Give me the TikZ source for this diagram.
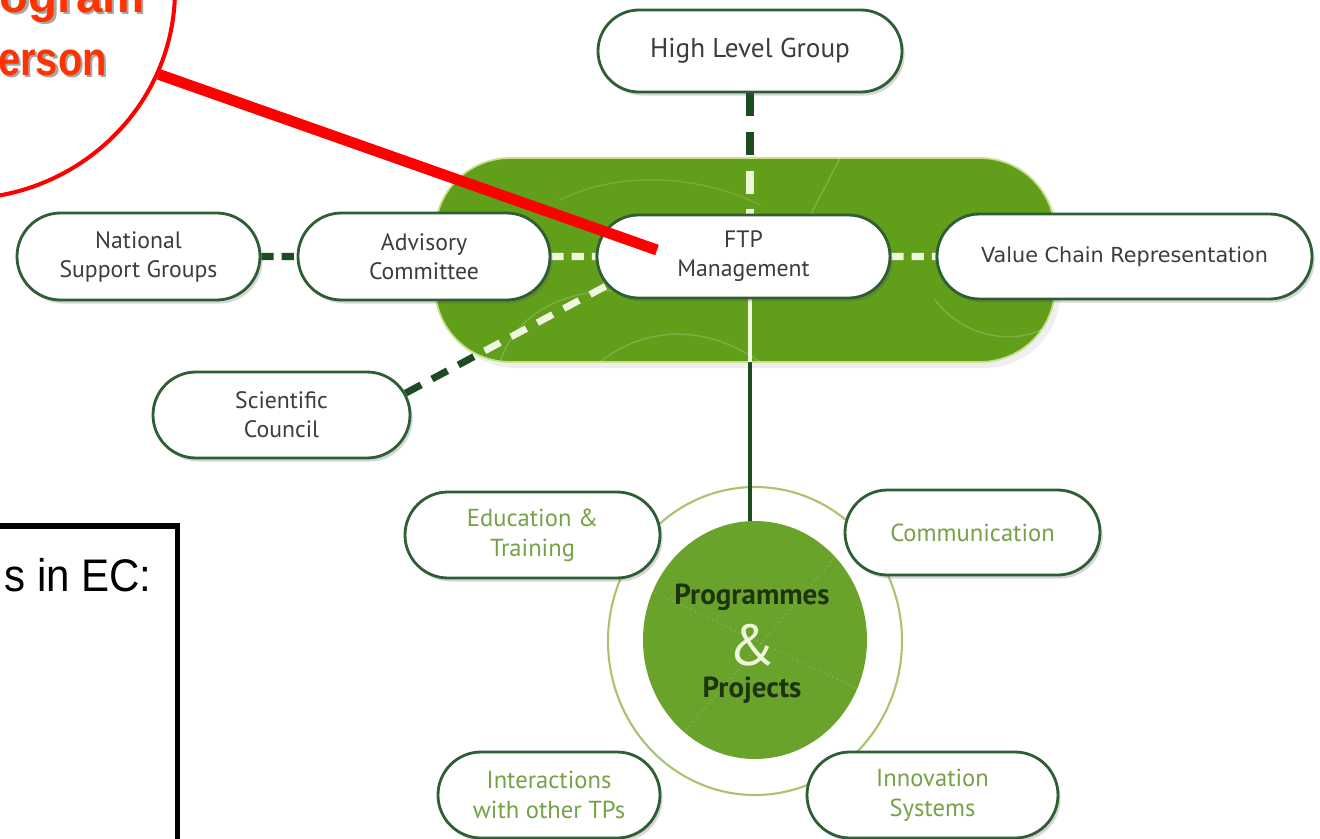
\documentclass[tikz,border=0pt]{standalone}
\usepackage{fontspec}
\setmainfont{PT Sans}
\newfontfamily\arialfont{Liberation Sans}
\newfontfamily\dvfont{DejaVu Sans}
\usetikzlibrary{shapes.misc,shapes.geometric,shadows}
\definecolor{panelgreen}{HTML}{619F1B}
\definecolor{panelrim}{HTML}{C9DF8E}
\definecolor{circgreen}{HTML}{6AA32C}
\definecolor{ringc}{HTML}{A9C46C}
\definecolor{pilledge}{HTML}{2E5E33}
\definecolor{pilltext}{HTML}{3C3C3C}
\definecolor{botgreen}{HTML}{76A245}
\definecolor{dgline}{HTML}{1C4C20}
\definecolor{paleline}{HTML}{EEF6DC}
\definecolor{ppdark}{HTML}{1E3410}
\definecolor{orangetxt}{HTML}{FF3300}
\pgfdeclarelayer{paper}
\pgfdeclarelayer{panel}
\pgfdeclarelayer{lines}
\pgfsetlayers{paper,panel,lines,main}
\begin{document}
\begin{tikzpicture}[x=0.02cm,y=-0.02cm,
  pill/.style 2 args={shape=rounded rectangle, draw=pilledge, line width=1.6pt,
    fill=white, minimum width=#1*0.02cm, minimum height=#2*0.02cm, inner sep=0pt,
    align=center, text=pilltext, font=\fontsize{13.5}{16.5}\selectfont,
    drop shadow={shadow xshift=1.5pt, shadow yshift=-2pt, opacity=0.22, fill=black!70}},
  botpill/.style={text=botgreen, font=\fontsize{14}{17}\selectfont},
  darkdash/.style={draw=dgline, line width=4pt},
  palestroke/.style={draw=paleline, line width=4pt},
  hdash/.style={dash pattern=on 7pt off 4.5pt},
  vdash/.style={dash pattern=on 13pt off 9pt},
  ddash/.style={dash pattern=on 10pt off 7pt},
  orangetext/.style={font=\arialfont\bfseries\fontsize{27}{32}\selectfont, inner sep=0pt, anchor=base east}
]
\useasboundingbox (0,0) rectangle (1320,839);
\begin{pgfonlayer}{paper}
  \fill[white] (0,0) rectangle (1320,839);
\end{pgfonlayer}

% ---------- panel ----------
\begin{pgfonlayer}{panel}
  \fill[black!30, opacity=0.2, rounded corners=1.5cm] (440,164) rectangle (1060,368);
  \draw[fill=panelgreen, draw=panelrim, line width=1pt, rounded corners=1.5cm] (435,158) rectangle (1055,362);
  \begin{scope}
    \clip[rounded corners=1.5cm] (435,158) rectangle (1055,362);
    \draw[white, opacity=0.18, line width=0.8pt] (500,362) .. controls (520,300) and (590,285) .. (640,292);
    \draw[white, opacity=0.18, line width=0.8pt] (600,362) .. controls (640,330) and (700,320) .. (760,362);
    \draw[white, opacity=0.18, line width=0.8pt] (935,300) .. controls (970,345) and (1030,345) .. (1055,320);
    \draw[white, opacity=0.18, line width=0.8pt] (840,158) -- (800,235);
    \draw[white, opacity=0.14, line width=0.8pt] (560,200) .. controls (620,170) and (700,175) .. (760,205);
  \end{scope}
  \draw[ringc, line width=1.2pt] (755,641) ellipse [x radius=147, y radius=154];
\end{pgfonlayer}

% ---------- nodes ----------
\node[pill={304}{82}, font=\fontsize{15.5}{18}\selectfont] (hlg) at (750,51) {High Level Group};
\node[pill={243}{87}] (nsg) at (138.5,256.5) {National\\Support Groups};
\node[pill={252}{87}] (adv) at (424,256.5) {Advisory\\Committee};
\node[pill={293}{83}] (ftp) at (743.5,256.5) {FTP\\Management};
\node[pill={375}{85}, font=\dvfont\fontsize{11.8}{14}\selectfont] (vcr) at (1124.5,256.5) {Value Chain Representation};
\node[pill={257}{86}] (sci) at (281.5,415) {Scientific\\Council};
\node[pill={255}{86}, botpill] (edu) at (532.5,535) {Education \&\\Training};
\node[pill={255}{85}, botpill] (com) at (972.5,532.5) {Communication};
\node[pill={222}{86}, botpill] (int) at (549,795) {Interactions\\with other TPs};
\node[pill={251}{86}, botpill] (inn) at (932.5,795) {Innovation\\Systems};

\node[ellipse, fill=circgreen, minimum width=224*0.02cm, minimum height=238*0.02cm, inner sep=0pt] (pp) at (755,640) {};
\begin{scope}
  \clip (755,640) ellipse [x radius=112, y radius=119];
  \draw[white, opacity=0.15, line width=0.8pt, dotted] (660,760) -- (850,540);
  \draw[white, opacity=0.15, line width=0.8pt, dotted] (650,590) -- (860,690);
\end{scope}
\node[font=\bfseries\fontsize{16.5}{19}\selectfont, text=ppdark] (ppa) at (752,597) {Programmes};
\node[font=\fontsize{33}{36}\selectfont, text=paleline] (amp) at (752,645) {\&};
\node[font=\bfseries\fontsize{16.5}{19}\selectfont, text=ppdark] (ppb) at (752,690) {Projects};

% ---------- connectors ----------
\begin{pgfonlayer}{lines}
  \draw[darkdash, vdash] (hlg.south) -- (hlg.south |- ftp.north);
  \draw[dgline, line width=2.8pt] (hlg.south |- ftp.south) -- (hlg.south |- pp.north);
  \draw[darkdash, hdash] (nsg) -- (adv);
  \draw[darkdash, ddash] (sci.10) -- (ftp.192);
  \begin{scope}
    \clip[rounded corners=1.5cm] (435,158) rectangle (1055,362);
    \draw[palestroke, vdash] (hlg.south) -- (hlg.south |- ftp.north);
    \draw[paleline, line width=2.8pt] (hlg.south |- ftp.south) -- (hlg.south |- pp.north);
    \draw[palestroke, ddash] (sci.10) -- (ftp.192);
  \end{scope}
  \draw[palestroke, hdash] (adv) -- (ftp);
  \draw[palestroke, hdash] (ftp) -- (vcr);
\end{pgfonlayer}

% ---------- annotation overlay ----------
\node[ellipse, draw=red, line width=2.3pt, minimum width=430*0.02cm, minimum height=418*0.02cm, inner sep=0pt] (callout) at (-40,-10) {};
\coordinate (redend) at (657,250);
\draw[red, line width=6.2pt] (callout.-23) -- (redend);

\node[orangetext, text=black!35] (t1s) at (147.5,14.5) {ogram};
\node[orangetext, text=orangetxt] (t1) at (145,12) {ogram};
\node[orangetext, text=black!35, xscale=0.84] (t2s) at (109.5,77.5) {erson};
\node[orangetext, text=orangetxt, xscale=0.84] (t2) at (107,75) {erson};

\draw[black, line width=3.4pt] (-20,526) -- (177.5,526) -- (177.5,900);
\node[font=\arialfont\fontsize{26}{30}\selectfont, inner sep=0pt, anchor=base east, xscale=0.92] (ec) at (152,591) {s in EC:};
\end{tikzpicture}
\end{document}
